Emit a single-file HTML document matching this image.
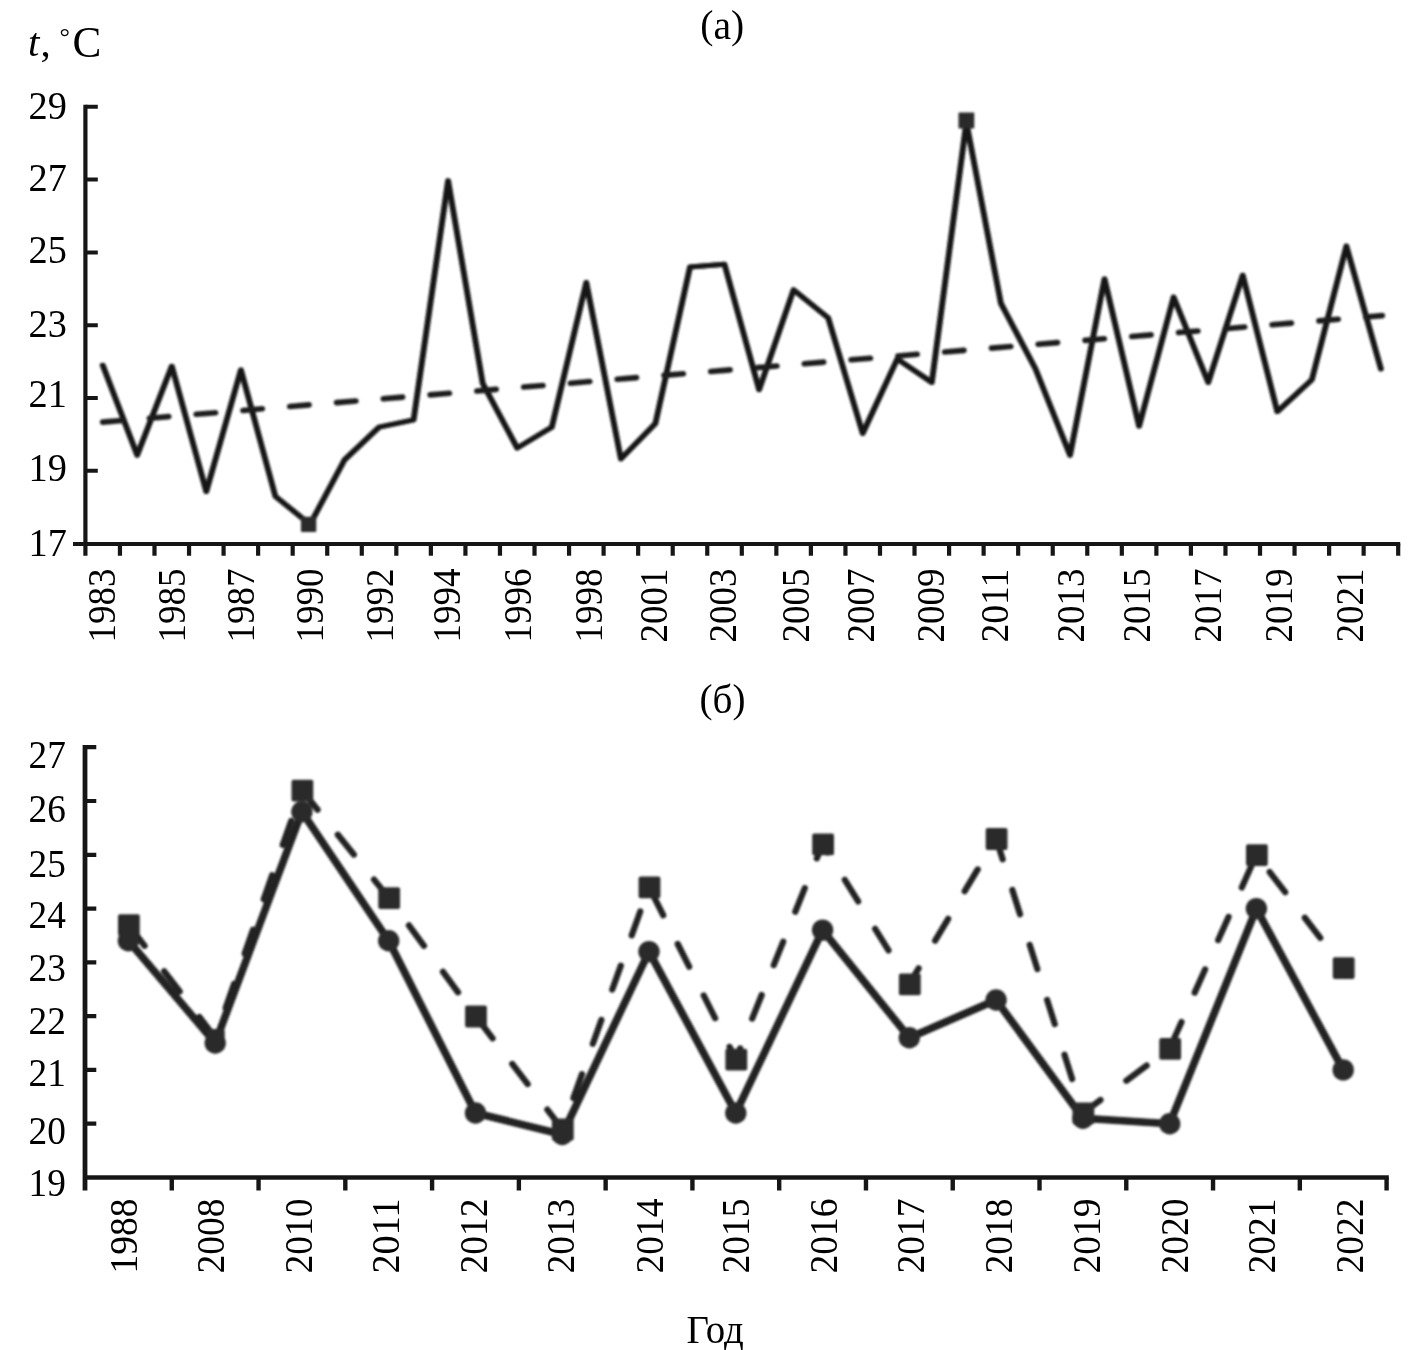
<!DOCTYPE html>
<html lang="ru"><head><meta charset="utf-8"><title>t, °C</title>
<style>
html,body{margin:0;padding:0;background:#fff;}
body{width:1421px;height:1350px;overflow:hidden;}
svg{display:block;}
text{font-family:"Liberation Serif",serif;font-size:39.5px;fill:#000;}
.ax{stroke:#191919;fill:none;stroke-linecap:butt;}
.ln{stroke:#1e1e1e;fill:none;stroke-linejoin:round;stroke-linecap:round;}
.mk{fill:#2c2c2c;stroke:none;}
</style></head><body>
<svg width="1421" height="1350" viewBox="0 0 1421 1350">
<defs><filter id="b" x="-5%" y="-5%" width="110%" height="110%"><feGaussianBlur stdDeviation="0.8"/></filter><filter id="b2" x="-5%" y="-5%" width="110%" height="110%"><feGaussianBlur stdDeviation="0.6"/></filter></defs>
<rect width="1421" height="1350" fill="#fff"/>
<g filter="url(#b2)">
<path class="ax" stroke-width="4.2" d="M85.4 104.8 V555.7"/>
<path class="ax" stroke-width="4" d="M73 543.9 H1400.2"/>
<path class="ax" stroke-width="4" d="M85.4 106.8 H97.8M85.4 179.6 H97.8M85.4 252.4 H97.8M85.4 325.2 H97.8M85.4 398.0 H97.8M85.4 470.8 H97.8"/>
<path class="ax" stroke-width="4.2" d="M119.95 543.6 V555.7M154.49 543.6 V555.7M189.04 543.6 V555.7M223.59 543.6 V555.7M258.14 543.6 V555.7M292.68 543.6 V555.7M327.23 543.6 V555.7M361.78 543.6 V555.7M396.33 543.6 V555.7M430.87 543.6 V555.7M465.42 543.6 V555.7M499.97 543.6 V555.7M534.52 543.6 V555.7M569.06 543.6 V555.7M603.61 543.6 V555.7M638.16 543.6 V555.7M672.71 543.6 V555.7M707.25 543.6 V555.7M741.80 543.6 V555.7M776.35 543.6 V555.7M810.89 543.6 V555.7M845.44 543.6 V555.7M879.99 543.6 V555.7M914.54 543.6 V555.7M949.08 543.6 V555.7M983.63 543.6 V555.7M1018.18 543.6 V555.7M1052.73 543.6 V555.7M1087.27 543.6 V555.7M1121.82 543.6 V555.7M1156.37 543.6 V555.7M1190.92 543.6 V555.7M1225.46 543.6 V555.7M1260.01 543.6 V555.7M1294.56 543.6 V555.7M1329.11 543.6 V555.7M1363.65 543.6 V555.7M1398.20 543.6 V555.7"/>
</g>
<g filter="url(#b)">
<polyline class="ln" stroke-width="4.9" style="stroke:#161616" stroke-linecap="butt" points="102.2,365.2 136.7,455.2 171.3,366.2 205.8,491.6 240.4,369.9 274.9,496.3 309.5,524.4 344.0,459.9 378.6,427.1 413.1,419.8 447.6,180.6 482.2,383.4 516.7,448.0 551.3,427.1 585.8,282.5 620.4,458.9 654.9,423.5 689.5,267.0 724.0,264.3 758.6,389.7 793.1,289.8 827.7,317.9 862.2,433.4 896.8,359.0 931.3,382.4 965.9,122.4 1000.4,303.4 1035.0,368.9 1069.5,455.2 1104.0,278.9 1138.6,426.1 1173.1,297.1 1207.7,382.4 1242.2,275.2 1276.8,411.6 1311.3,379.8 1345.9,246.1 1380.4,368.9"/>
<polyline class="ln" stroke-width="4.9" style="stroke:#161616" stroke-linecap="butt" points="103.2,365.2 137.7,455.2 172.3,366.2 206.8,491.6 241.4,369.9 275.9,496.3 310.5,524.4 345.0,459.9 379.6,427.1 414.1,419.8 448.6,180.6 483.2,383.4 517.7,448.0 552.3,427.1 586.8,282.5 621.4,458.9 655.9,423.5 690.5,267.0 725.0,264.3 759.6,389.7 794.1,289.8 828.7,317.9 863.2,433.4 897.8,359.0 932.3,382.4 966.9,122.4 1001.4,303.4 1036.0,368.9 1070.5,455.2 1105.0,278.9 1139.6,426.1 1174.1,297.1 1208.7,382.4 1243.2,275.2 1277.8,411.6 1312.3,379.8 1346.9,246.1 1381.4,368.9"/>
<path class="ln" stroke-width="5.6" stroke-dasharray="19.5 27.44" d="M102.6 422.1 L1382.4 315.6"/>
<rect class="mk" x="300.9" y="516.7" width="15.4" height="15.4" rx="1"/>
<rect class="mk" x="958.5" y="112.6" width="15.8" height="15.8" rx="1"/>
</g>
<text x="66.9" y="119.3" text-anchor="end" textLength="38.3" lengthAdjust="spacingAndGlyphs">29</text>
<text x="66.9" y="191.3" text-anchor="end" textLength="38.3" lengthAdjust="spacingAndGlyphs">27</text>
<text x="66.9" y="262.7" text-anchor="end" textLength="38.3" lengthAdjust="spacingAndGlyphs">25</text>
<text x="66.9" y="336.7" text-anchor="end" textLength="38.3" lengthAdjust="spacingAndGlyphs">23</text>
<text x="66.9" y="406.7" text-anchor="end" textLength="38.3" lengthAdjust="spacingAndGlyphs">21</text>
<text x="66.9" y="480.7" text-anchor="end" textLength="38.3" lengthAdjust="spacingAndGlyphs">19</text>
<text x="66.9" y="556.0" text-anchor="end" textLength="38.3" lengthAdjust="spacingAndGlyphs">17</text>
<text transform="translate(115.1 642.6) rotate(-90)" textLength="74" lengthAdjust="spacingAndGlyphs">1983</text>
<text transform="translate(184.5 642.6) rotate(-90)" textLength="74" lengthAdjust="spacingAndGlyphs">1985</text>
<text transform="translate(253.7 642.6) rotate(-90)" textLength="74" lengthAdjust="spacingAndGlyphs">1987</text>
<text transform="translate(322.8 642.6) rotate(-90)" textLength="74" lengthAdjust="spacingAndGlyphs">1990</text>
<text transform="translate(393.0 642.6) rotate(-90)" textLength="74" lengthAdjust="spacingAndGlyphs">1992</text>
<text transform="translate(460.0 642.6) rotate(-90)" textLength="74" lengthAdjust="spacingAndGlyphs">1994</text>
<text transform="translate(531.0 642.6) rotate(-90)" textLength="74" lengthAdjust="spacingAndGlyphs">1996</text>
<text transform="translate(601.9 642.6) rotate(-90)" textLength="74" lengthAdjust="spacingAndGlyphs">1998</text>
<text transform="translate(666.8 642.6) rotate(-90)" textLength="74" lengthAdjust="spacingAndGlyphs">2001</text>
<text transform="translate(735.7 642.6) rotate(-90)" textLength="74" lengthAdjust="spacingAndGlyphs">2003</text>
<text transform="translate(808.9 642.6) rotate(-90)" textLength="74" lengthAdjust="spacingAndGlyphs">2005</text>
<text transform="translate(873.5 642.6) rotate(-90)" textLength="74" lengthAdjust="spacingAndGlyphs">2007</text>
<text transform="translate(944.0 642.6) rotate(-90)" textLength="74" lengthAdjust="spacingAndGlyphs">2009</text>
<text transform="translate(1008.0 642.6) rotate(-90)" textLength="74" lengthAdjust="spacingAndGlyphs">2011</text>
<text transform="translate(1084.2 642.6) rotate(-90)" textLength="74" lengthAdjust="spacingAndGlyphs">2013</text>
<text transform="translate(1150.4 642.6) rotate(-90)" textLength="74" lengthAdjust="spacingAndGlyphs">2015</text>
<text transform="translate(1221.4 642.6) rotate(-90)" textLength="74" lengthAdjust="spacingAndGlyphs">2017</text>
<text transform="translate(1291.8 642.6) rotate(-90)" textLength="74" lengthAdjust="spacingAndGlyphs">2019</text>
<text transform="translate(1362.8 642.6) rotate(-90)" textLength="74" lengthAdjust="spacingAndGlyphs">2021</text>
<text transform="translate(722.3 38.8) scale(0.965 1)" text-anchor="middle" style="font-size:41px"><tspan dy="-1.1">(</tspan><tspan dy="1.1">а</tspan><tspan dy="-1.1">)</tspan></text>
<text x="28" y="56" style="font-size:41px"><tspan font-style="italic">t</tspan><tspan dx="1">,</tspan></text>
<text x="59.6" y="45.1" style="font-size:26.1px">°</text>
<text transform="translate(72.6 56.7) scale(0.96 1)" style="font-size:45px">C</text>
<g filter="url(#b2)">
<path class="ax" stroke-width="4.8" d="M85.0 745.0 V1190.4"/>
<path class="ax" stroke-width="4.4" d="M85.0 1177.5 H1388.8"/>
<path class="ax" stroke-width="4.2" d="M85.0 1123.7 H96.3M85.0 1069.9 H96.3M85.0 1016.1 H96.3M85.0 962.4 H96.3M85.0 908.6 H96.3M85.0 854.8 H96.3M85.0 801.0 H96.3M85.0 747.2 H96.3"/>
<path class="ax" stroke-width="4.4" d="M171.77 1177.5 V1190.4M258.55 1177.5 V1190.4M345.32 1177.5 V1190.4M432.09 1177.5 V1190.4M518.87 1177.5 V1190.4M605.64 1177.5 V1190.4M692.41 1177.5 V1190.4M779.19 1177.5 V1190.4M865.96 1177.5 V1190.4M952.73 1177.5 V1190.4M1039.51 1177.5 V1190.4M1126.28 1177.5 V1190.4M1213.05 1177.5 V1190.4M1299.83 1177.5 V1190.4M1386.60 1177.5 V1190.4"/>
</g>
<g filter="url(#b)">
<polyline class="ln" stroke-width="6.2" style="stroke:#202020" stroke-dasharray="25.4 32.2" stroke-dashoffset="-1.2" points="128.4,924.7 215.2,1037.7 301.9,790.2 388.7,897.8 475.5,1016.1 562.3,1129.1 649.0,887.0 735.8,1059.2 822.6,844.0 909.3,983.9 996.1,838.6 1082.9,1113.0 1169.7,1048.4 1256.4,854.8 1343.2,967.7"/>
<polyline class="ln" stroke-width="7.6" style="stroke:#202020" points="128.4,940.8 215.2,1043.0 301.9,811.7 388.7,940.8 475.5,1113.0 562.3,1134.5 649.0,951.6 735.8,1113.0 822.6,930.1 909.3,1037.7 996.1,1000.0 1082.9,1118.3 1169.7,1123.7 1256.4,908.6 1343.2,1069.9"/>
<rect class="mk" x="118.0" y="914.2" width="21.8" height="21.8" rx="2"/>
<rect class="mk" x="206.7" y="1029.1" width="18.0" height="18.0" rx="2"/>
<rect class="mk" x="291.5" y="779.7" width="21.8" height="21.8" rx="2"/>
<rect class="mk" x="378.3" y="887.3" width="21.8" height="21.8" rx="2"/>
<rect class="mk" x="465.1" y="1005.6" width="21.8" height="21.8" rx="2"/>
<rect class="mk" x="551.9" y="1118.6" width="21.8" height="21.8" rx="2"/>
<rect class="mk" x="638.6" y="876.5" width="21.8" height="21.8" rx="2"/>
<rect class="mk" x="725.4" y="1048.7" width="21.8" height="21.8" rx="2"/>
<rect class="mk" x="812.2" y="833.5" width="21.8" height="21.8" rx="2"/>
<rect class="mk" x="898.9" y="973.4" width="21.8" height="21.8" rx="2"/>
<rect class="mk" x="985.7" y="828.1" width="21.8" height="21.8" rx="2"/>
<rect class="mk" x="1072.5" y="1102.5" width="21.8" height="21.8" rx="2"/>
<rect class="mk" x="1159.3" y="1037.9" width="21.8" height="21.8" rx="2"/>
<rect class="mk" x="1246.0" y="844.3" width="21.8" height="21.8" rx="2"/>
<rect class="mk" x="1332.8" y="957.2" width="21.8" height="21.8" rx="2"/>
<circle class="mk" cx="128.4" cy="940.8" r="10.7"/>
<circle class="mk" cx="215.2" cy="1043.0" r="10.7"/>
<circle class="mk" cx="301.9" cy="811.7" r="10.7"/>
<circle class="mk" cx="388.7" cy="940.8" r="10.7"/>
<circle class="mk" cx="475.5" cy="1113.0" r="10.7"/>
<circle class="mk" cx="562.3" cy="1134.5" r="10.7"/>
<circle class="mk" cx="649.0" cy="951.6" r="10.7"/>
<circle class="mk" cx="735.8" cy="1113.0" r="10.7"/>
<circle class="mk" cx="822.6" cy="930.1" r="10.7"/>
<circle class="mk" cx="909.3" cy="1037.7" r="10.7"/>
<circle class="mk" cx="996.1" cy="1000.0" r="10.7"/>
<circle class="mk" cx="1082.9" cy="1118.3" r="10.7"/>
<circle class="mk" cx="1169.7" cy="1123.7" r="10.7"/>
<circle class="mk" cx="1256.4" cy="908.6" r="10.7"/>
<circle class="mk" cx="1343.2" cy="1069.9" r="10.7"/>
</g>
<text x="65.9" y="768.2" text-anchor="end" textLength="37.3" lengthAdjust="spacingAndGlyphs">27</text>
<text x="65.9" y="822.4" text-anchor="end" textLength="37.3" lengthAdjust="spacingAndGlyphs">26</text>
<text x="65.9" y="876.7" text-anchor="end" textLength="37.3" lengthAdjust="spacingAndGlyphs">25</text>
<text x="65.9" y="928.4" text-anchor="end" textLength="37.3" lengthAdjust="spacingAndGlyphs">24</text>
<text x="65.9" y="980.7" text-anchor="end" textLength="37.3" lengthAdjust="spacingAndGlyphs">23</text>
<text x="65.9" y="1034.1" text-anchor="end" textLength="37.3" lengthAdjust="spacingAndGlyphs">22</text>
<text x="65.9" y="1086.4" text-anchor="end" textLength="37.3" lengthAdjust="spacingAndGlyphs">21</text>
<text x="65.9" y="1144.4" text-anchor="end" textLength="37.3" lengthAdjust="spacingAndGlyphs">20</text>
<text x="65.9" y="1196.3" text-anchor="end" textLength="37.3" lengthAdjust="spacingAndGlyphs">19</text>
<text transform="translate(136.6 1273.5) rotate(-90)" textLength="75" lengthAdjust="spacingAndGlyphs">1988</text>
<text transform="translate(223.7 1273.5) rotate(-90)" textLength="75" lengthAdjust="spacingAndGlyphs">2008</text>
<text transform="translate(311.5 1273.5) rotate(-90)" textLength="75" lengthAdjust="spacingAndGlyphs">2010</text>
<text transform="translate(399.4 1273.5) rotate(-90)" textLength="75" lengthAdjust="spacingAndGlyphs">2011</text>
<text transform="translate(486.5 1273.5) rotate(-90)" textLength="75" lengthAdjust="spacingAndGlyphs">2012</text>
<text transform="translate(573.6 1273.5) rotate(-90)" textLength="75" lengthAdjust="spacingAndGlyphs">2013</text>
<text transform="translate(662.8 1273.5) rotate(-90)" textLength="75" lengthAdjust="spacingAndGlyphs">2014</text>
<text transform="translate(749.0 1273.5) rotate(-90)" textLength="75" lengthAdjust="spacingAndGlyphs">2015</text>
<text transform="translate(836.8 1273.5) rotate(-90)" textLength="75" lengthAdjust="spacingAndGlyphs">2016</text>
<text transform="translate(924.0 1273.5) rotate(-90)" textLength="75" lengthAdjust="spacingAndGlyphs">2017</text>
<text transform="translate(1011.6 1273.5) rotate(-90)" textLength="75" lengthAdjust="spacingAndGlyphs">2018</text>
<text transform="translate(1099.5 1273.5) rotate(-90)" textLength="75" lengthAdjust="spacingAndGlyphs">2019</text>
<text transform="translate(1188.3 1273.5) rotate(-90)" textLength="75" lengthAdjust="spacingAndGlyphs">2020</text>
<text transform="translate(1275.1 1273.5) rotate(-90)" textLength="75" lengthAdjust="spacingAndGlyphs">2021</text>
<text transform="translate(1363.0 1273.5) rotate(-90)" textLength="75" lengthAdjust="spacingAndGlyphs">2022</text>
<text transform="translate(722.5 712.9) scale(0.955 1)" text-anchor="middle" style="font-size:41px"><tspan dy="-1.3">(</tspan><tspan dy="1.3">б</tspan><tspan dy="-1.3">)</tspan></text>
<text transform="translate(715.2 1343.1) scale(0.958 1)" text-anchor="middle" style="font-size:40.6px">Год</text>
</svg></body></html>
